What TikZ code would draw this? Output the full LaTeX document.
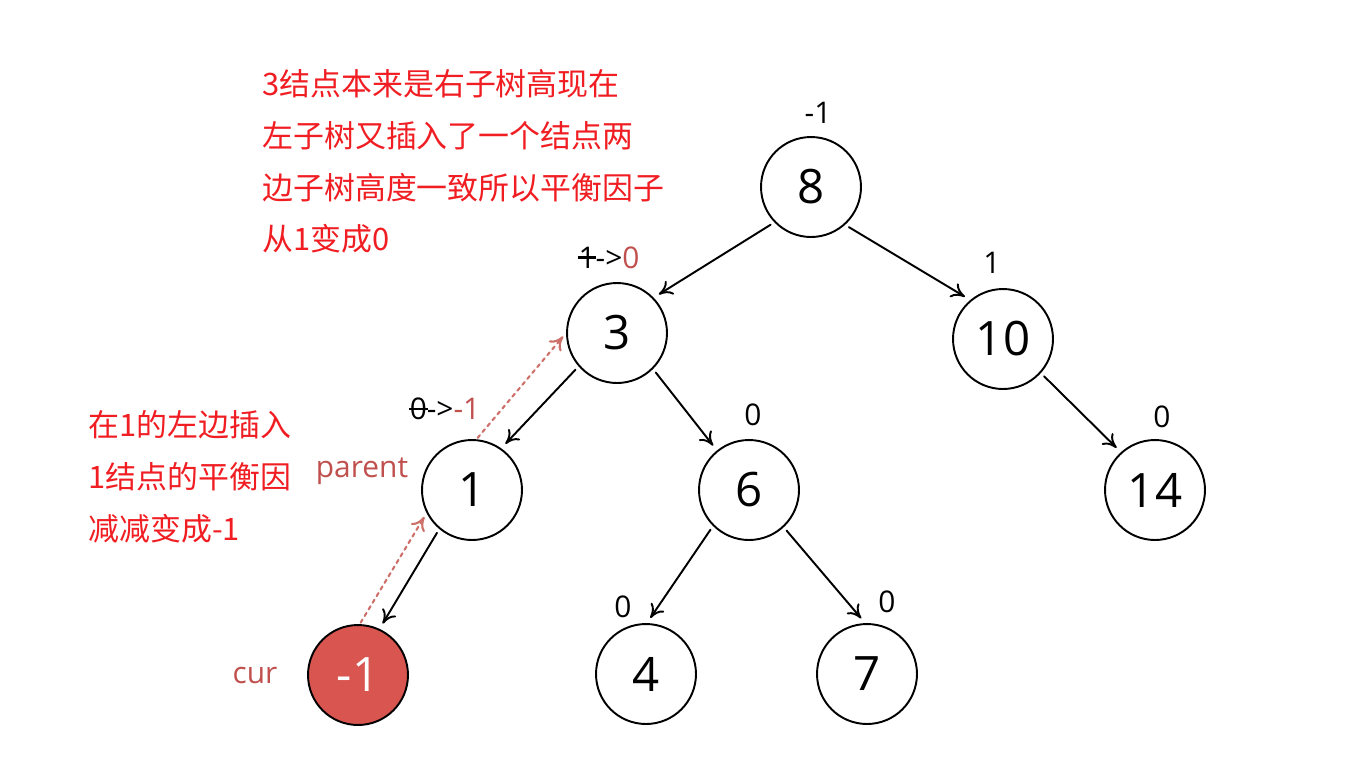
\documentclass[tikz,border=0pt]{standalone}
\usepackage{fontspec}
\setmainfont{Open Sans}
\newfontfamily\cjk{Noto Sans CJK SC}
\usepackage{tikz}
\usetikzlibrary{arrows.meta}
\usepackage{xcolor}
\definecolor{notered}{RGB}{240,30,35}
\definecolor{markred}{RGB}{192,80,77}
\definecolor{dashred}{RGB}{205,112,105}
\definecolor{curfill}{RGB}{217,86,80}
\newcommand\strk[1]{\ooalign{#1\cr\hidewidth\rule[0.32em]{0.62em}{0.09em}\hidewidth\cr}}

\begin{document}
\begin{tikzpicture}[x=0.02cm,y=-0.02cm,>={To[length=2.7mm,width=3.2mm]},line cap=round,
  tnode/.style={circle,draw,line width=1.1pt,minimum size=2cm,inner sep=0pt,font=\fontsize{27}{30}\selectfont},
  bal/.style={inner sep=0pt,font=\fontsize{17}{20}\selectfont},
  link/.style={->,line width=1.1pt,shorten <=2.5pt,shorten >=3.5pt},
  uplink/.style={->,dashred,line width=1.2pt,dash pattern=on 2pt off 2.4pt,shorten <=1pt,shorten >=2.5pt},
  note/.style={notered,align=left,anchor=north west,inner sep=0pt,font=\cjk\fontsize{17.6}{29.5}\selectfont}]
\useasboundingbox (0,0) rectangle (1353,782);
% tree
\node[tnode] (n8) at (811,187) {8};
\node[tnode] (n3) at (617,333) {3};
\node[tnode] (n10) at (1003,339) {10};
\node[tnode] (n1) at (472,490) {1};
\node[tnode] (n6) at (749,490) {6};
\node[tnode] (n14) at (1155,490) {14};
\node[tnode,fill=curfill,text=white] (cur) at (358,675) {-1};
\node[tnode] (n4) at (646,674) {4};
\node[tnode] (n7) at (867,674) {7};
\draw[link] (n8.224) -- (n3.44);
\draw[link] (n8.312) -- (n10.130);
\draw[link] (n3.221) -- (n1.55);
\draw[link] (n3.315) -- (n6.129);
\draw[link] (n10.318) -- (n14.132);
\draw[link] (n1.230) -- (cur.65);
\draw[link] (n6.225) -- (n4.89);
\draw[link] (n6.313) -- (n7.92);
% walking back up
\draw[uplink] (cur.88) -- (n1.207);
\draw[uplink] (n1.85) -- (n3.180);
% balance factors
\node[bal] (b8) at (818,113) {-1};
\node[bal] (b3) at (609,258) {\strk{1}->\textcolor{markred}{0}};
\node[bal] (b10) at (992,263) {1};
\node[bal] (b1) at (445,409) {\strk{0}->\textcolor{markred}{-1}};
\node[bal] (b6) at (753,415) {0};
\node[bal] (b14) at (1162,417) {0};
\node[bal] (b4) at (623,607) {0};
\node[bal] (b7) at (887,602) {0};
\node[bal,markred] (lparent) at (362,471) {parent};
\node[bal,markred] (lcur) at (255,675) {cur};
% notes
\node[note] (note3) at (262,69) {3结点本来是右子树高现在\\左子树又插入了一个结点两\\边子树高度一致所以平衡因子\\从1变成0};
\node[note] (note1) at (88,410) {在1的左边插入\\1结点的平衡因\\减减变成-1};
\end{tikzpicture}
\end{document}
